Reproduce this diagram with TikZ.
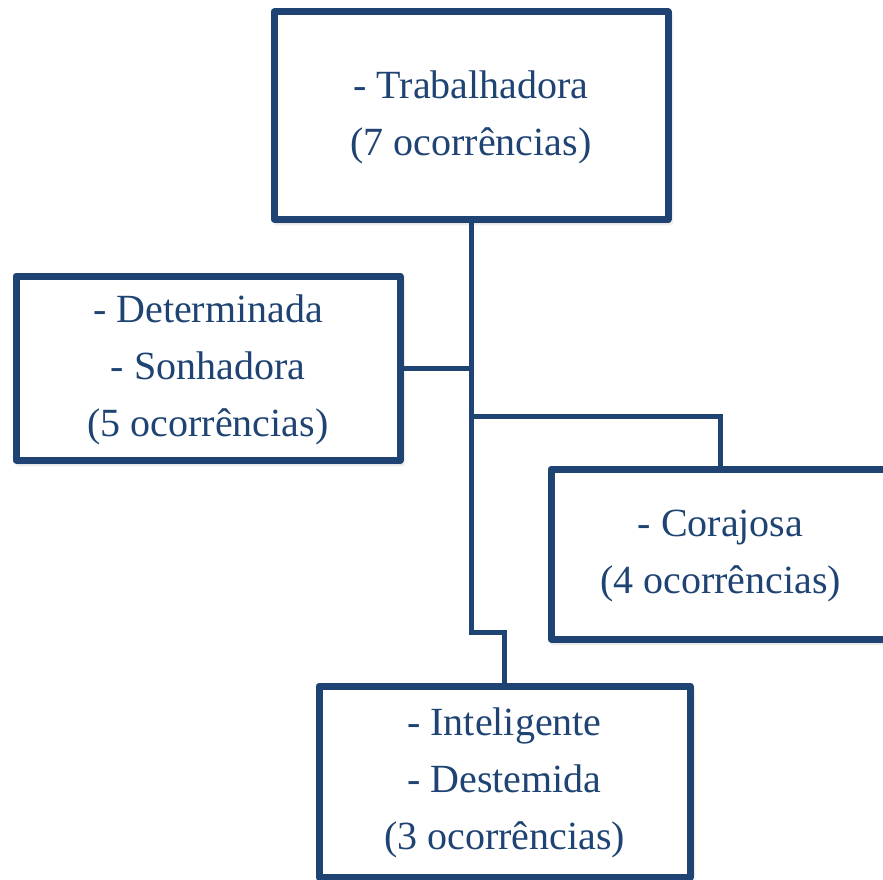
\documentclass[tikz,border=0pt]{standalone}
\usepackage{fontspec}
\setmainfont{Liberation Serif}
\usetikzlibrary{shadows.blur}
\definecolor{dblue}{HTML}{1F4473}
\newcommand\boxlines[1]{\begin{tabular}{@{}c@{}}#1\end{tabular}}
\begin{document}
\begin{tikzpicture}[x=1pt,y=-1pt,
  box/.style={draw=dblue, line width=7pt, fill=white, line join=round, rectangle,
    inner sep=0pt, text=dblue, font=\fontsize{40}{57}\selectfont,
    blur shadow={shadow xshift=2pt, shadow yshift=-3pt, shadow blur radius=4pt, shadow opacity=35}},
  conn/.style={draw=dblue, line width=5pt}]
\useasboundingbox (0,0) rectangle (883,880);
\clip (0,0) rectangle (883,880);
\node[box, minimum width=394pt, minimum height=207pt] (top) at (471,115.5)
  {\boxlines{- Trabalhadora\\(7 ocorrências)}};
\node[box, minimum width=384pt, minimum height=184pt] (left) at (208,368)
  {\boxlines{- Determinada\\- Sonhadora\\(5 ocorrências)}};
\node[box, minimum width=339pt, minimum height=170pt] (cor) at (720.5,554)
  {\boxlines{- Corajosa\\(4 ocorrências)}};
\node[box, minimum width=371pt, minimum height=191pt] (bot) at (504.5,781.5)
  {\boxlines{- Inteligente\\- Destemida\\(3 ocorrências)}};
\coordinate (jl) at (top.south |- left.east);
\coordinate (jc) at (471,416);
\coordinate (jb) at (471,632);
\draw[conn] (top.south) -- (jb) -| (bot.north);
\draw[conn] (left.east) -- (jl);
\draw[conn] (jc) -| (cor.north);
\end{tikzpicture}
\end{document}
